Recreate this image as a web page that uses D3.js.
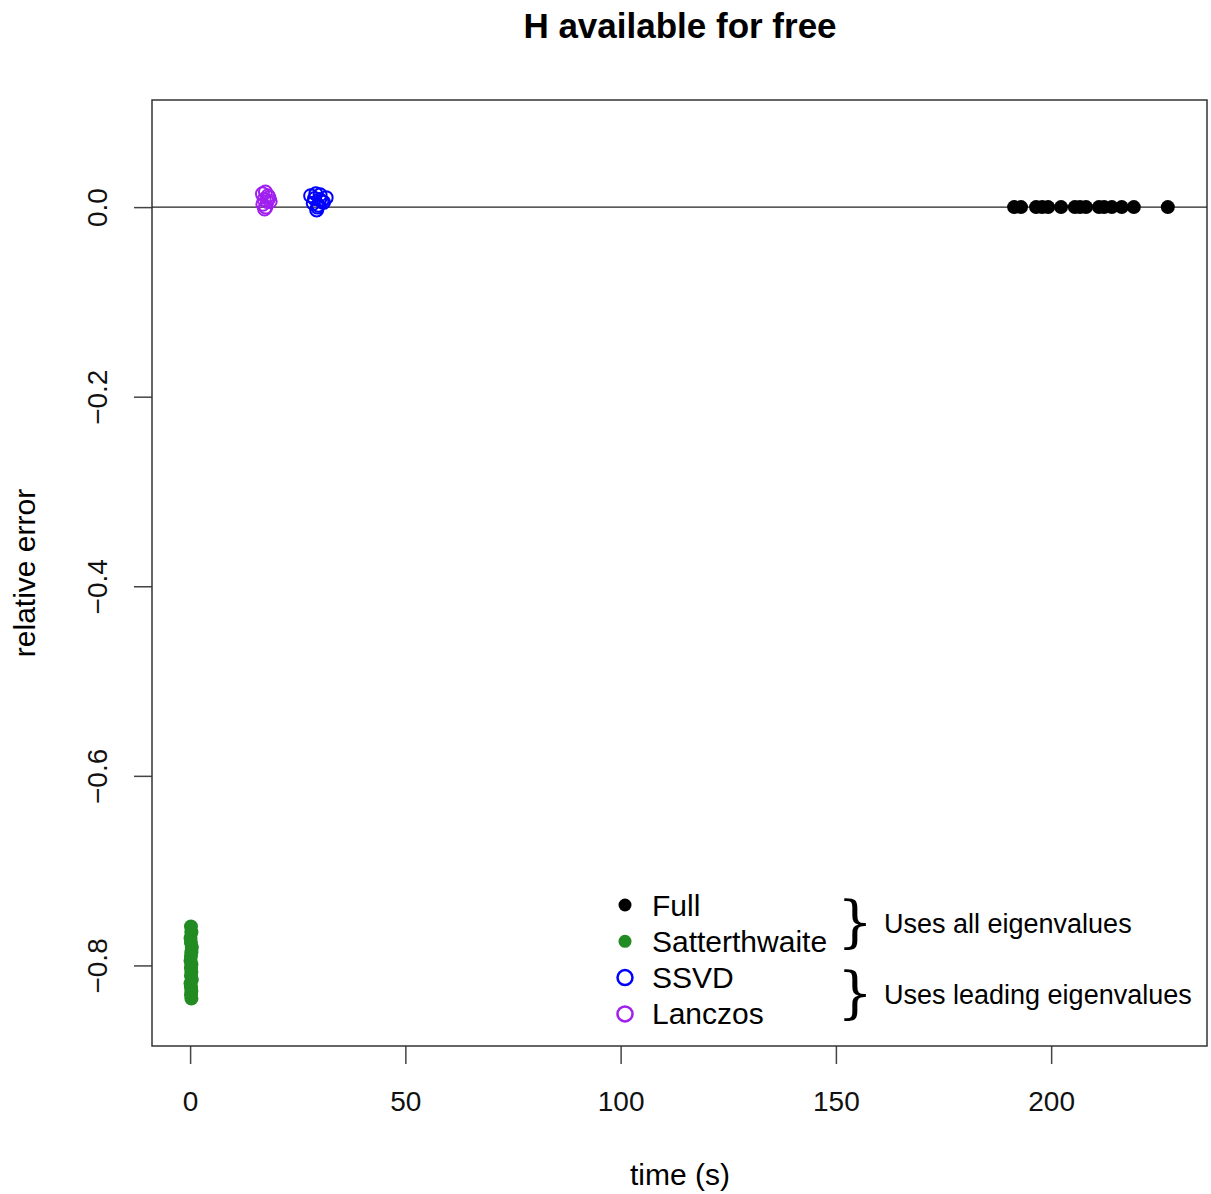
<!DOCTYPE html>
<html>
<head>
<meta charset="utf-8">
<script src="https://cdn.jsdelivr.net/npm/d3@7"></script>
<style>
  body { margin: 0; background: #fff; }
  svg { display: block; font-family: "Liberation Sans", Arial, sans-serif; }
</style>
</head>
<body>
<div id="chart"></div>
<script>
// Data
const fullTime = [191.4, 193.0, 196.5, 197.9, 199.3, 202.3, 205.5, 206.7, 208.1, 211.1, 212.3, 214.1, 216.4, 219.2, 227.1];
const fullErr = fullTime.map(() => 0);

const sattTime = [0.2, 0.3, 0.1, 0.2, 0.4, 0.3, 0.2, 0.1, 0.3, 0.2, 0.3, 0.2, 0.4, 0.1, 0.2, 0.3, 0.2, 0.3];
const sattErr = [-0.759, -0.765, -0.771, -0.776, -0.781, -0.786, -0.790, -0.795, -0.799, -0.803, -0.807, -0.811, -0.815, -0.819, -0.823, -0.827, -0.831, -0.835];

const ssvdTime = [28.0, 29.2, 30.1, 31.6, 28.6, 29.8, 30.6, 29.4, 28.9, 30.2, 29.6, 31.0];
const ssvdErr = [0.012, 0.014, 0.008, 0.010, 0.004, 0.002, 0.006, -0.003, 0.009, 0.013, 0.000, 0.005];

const lancTime = [16.8, 17.5, 18.1, 17.2, 17.9, 16.9, 18.6, 17.6, 17.3, 18.3];
const lancErr = [0.014, 0.016, 0.012, 0.008, 0.006, 0.003, 0.006, 0.000, -0.002, 0.010];

const xTicks = [0, 50, 100, 150, 200];
const yTicks = [0.0, -0.2, -0.4, -0.6, -0.8];

const W = 1211, H = 1194;
const margin = { top: 100, right: 4, bottom: 148, left: 152 };
const width = W - margin.left - margin.right;
const height = H - margin.top - margin.bottom;

const svg = d3.select('#chart').append('svg')
    .attr('width', W)
    .attr('height', H);

const g = svg.append('g')
    .attr('transform', `translate(${margin.left},${margin.top})`);

const x = d3.scaleLinear().domain([-8.85, 236.2]).range([0, width]);
const y = d3.scaleLinear().domain([-0.885, 0.113]).range([height, 0]);

// Title
svg.append('text')
    .attr('x', 680)
    .attr('y', 38)
    .attr('text-anchor', 'middle')
    .style('font-size', '35px')
    .style('font-weight', 'bold')
    .text('H available for free');

// Axes
const xAxis = g.append('g')
    .attr('transform', `translate(0,${height})`)
    .call(d3.axisBottom(x).tickValues(xTicks).tickSize(18).tickPadding(27).tickFormat(d3.format('d')));

const yAxis = g.append('g')
    .call(d3.axisLeft(y).tickValues(yTicks).tickSize(18).tickFormat(d3.format('.1f')));

[xAxis, yAxis].forEach(a => {
    a.select('.domain').remove();
    a.selectAll('line').attr('stroke', '#444').attr('stroke-width', 1.5);
    a.selectAll('text')
        .attr('fill', '#111')
        .style('font-size', '28px')
        .style('font-family', '"Liberation Sans", Arial, sans-serif');
});

yAxis.selectAll('text')
    .text(d => d3.format('.1f')(d).replace('-', '\u2212'))
    .attr('text-anchor', 'middle')
    .attr('x', 0)
    .attr('dy', 0)
    .attr('transform', 'translate(-55,0) rotate(-90) translate(0,10)');

// Box
g.append('rect')
    .attr('width', width)
    .attr('height', height)
    .attr('fill', 'none')
    .attr('stroke', '#333')
    .attr('stroke-width', 1.5);

// Axis labels
svg.append('text')
    .attr('x', 680)
    .attr('y', 1185)
    .attr('text-anchor', 'middle')
    .style('font-size', '30px')
    .text('time (s)');

svg.append('text')
    .attr('transform', `translate(35,573) rotate(-90)`)
    .attr('text-anchor', 'middle')
    .style('font-size', '30px')
    .text('relative error');

// Zero line
g.append('line')
    .attr('x1', 0).attr('x2', width)
    .attr('y1', y(0)).attr('y2', y(0))
    .attr('stroke', '#222')
    .attr('stroke-width', 1.2);

// Points
const r = 7;
function solid(times, errs, color) {
    g.selectAll(null)
        .data(times.map((t, i) => [t, errs[i]]))
        .enter().append('circle')
        .attr('cx', d => x(d[0]))
        .attr('cy', d => y(d[1]))
        .attr('r', r)
        .attr('fill', color);
}
function open(times, errs, color) {
    g.selectAll(null)
        .data(times.map((t, i) => [t, errs[i]]))
        .enter().append('circle')
        .attr('cx', d => x(d[0]))
        .attr('cy', d => y(d[1]))
        .attr('r', r - 0.5)
        .attr('fill', 'none')
        .attr('stroke', color)
        .attr('stroke-width', 2);
}
solid(fullTime, fullErr, '#000');
solid(sattTime, sattErr, '#228b22');
open(ssvdTime, ssvdErr, '#0000ff');
open(lancTime, lancErr, '#a020f0');

// Legend
const legendItems = ['Full', 'Satterthwaite', 'SSVD', 'Lanczos'];
const legendColors = ['#000', '#228b22', '#0000ff', '#a020f0'];
const legendFilled = [true, true, false, false];
const legend = svg.append('g');
legendItems.forEach((name, i) => {
    const cy = 905 + i * 36.3;
    legend.append('circle')
        .attr('cx', 625).attr('cy', cy)
        .attr('r', legendFilled[i] ? 6.5 : 7.5)
        .attr('fill', legendFilled[i] ? legendColors[i] : 'none')
        .attr('stroke', legendFilled[i] ? 'none' : legendColors[i])
        .attr('stroke-width', 2.5);
    legend.append('text')
        .attr('x', 652).attr('y', cy + 10.5)
        .style('font-size', '30px')
        .text(name);
});

// Braces and group notes
const groups = [
    { label: 'Uses all eigenvalues', cy: 923 },
    { label: 'Uses leading eigenvalues', cy: 994 }
];
groups.forEach(gr => {
    legend.append('text')
        .attr('x', 855).attr('y', gr.cy + 18)
        .attr('text-anchor', 'middle')
        .style('font-size', '56px')
        .style('font-family', '"DejaVu Serif", "Liberation Serif", serif')
        .style('font-weight', '300')
        .text('}');
    legend.append('text')
        .attr('x', 884).attr('y', gr.cy + 9.5)
        .style('font-size', '27px')
        .text(gr.label);
});
</script>
</body>
</html>
